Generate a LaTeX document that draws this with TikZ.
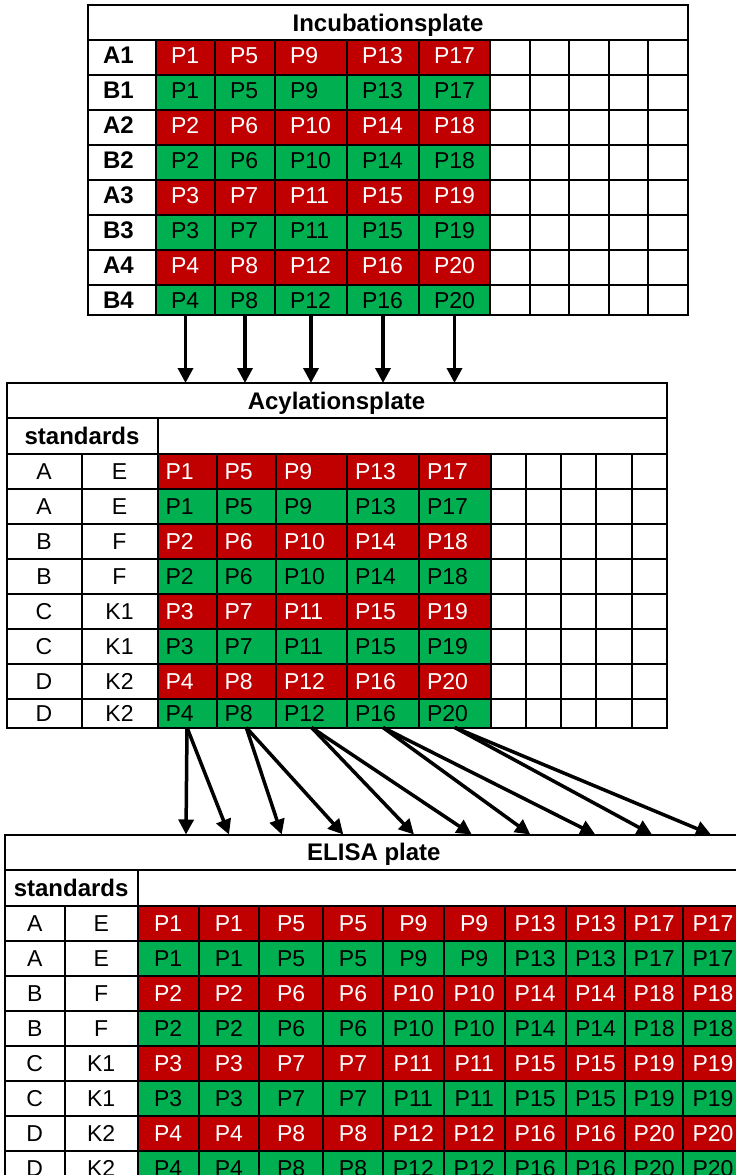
\documentclass[tikz,border=0pt]{standalone}
\usepackage{fontspec}
\setmainfont{Liberation Sans}
\usetikzlibrary{arrows.meta}
\definecolor{cred}{HTML}{C00000}
\definecolor{cgreen}{HTML}{00B050}
\tikzset{
  cellbox/.style={draw=black, line width=2pt, rectangle, inner sep=0pt, outer sep=0pt,
    text height=16.5pt, text depth=0pt, font=\fontsize{23}{23}\selectfont},
  boldtxt/.style={font=\fontsize{24}{24}\selectfont\bfseries, text height=17.2pt},
  flow/.style={line width=3.5pt, -{Triangle[width=15pt,length=15pt]}},
}
% centred cell: name, x1, y1, x2, y2, options, text
\newcommand\mkcell[7]{%
  \pgfmathsetmacro\cw{#4-#2}\pgfmathsetmacro\ch{#5-#3}%
  \pgfmathsetmacro\cx{(#2+#4)/2}\pgfmathsetmacro\cy{(#3+#5)/2}%
  \node[cellbox, minimum width=\cw pt, minimum height=\ch pt, #6] (#1) at (\cx,\cy) {#7};}
% left-aligned cell: name, x1, y1, x2, y2, pad, options, text
\newcommand\mkcellL[8]{%
  \pgfmathsetmacro\cw{#4-#2}\pgfmathsetmacro\ch{#5-#3}%
  \pgfmathsetmacro\ctw{#4-#2-2*#6}%
  \pgfmathsetmacro\cx{(#2+#4)/2}\pgfmathsetmacro\cy{(#3+#5)/2}%
  \node[cellbox, minimum width=\cw pt, minimum height=\ch pt, inner xsep=#6pt,
    text width=\ctw pt, align=left, #7] (#1) at (\cx,\cy) {#8};}
\begin{document}
\begin{tikzpicture}[x=1pt, y=-1pt]
\useasboundingbox (0,0) rectangle (736,1175);
\clip (0,0) rectangle (736,1175);

% ---------------- Incubation plate ----------------
\mkcell{T-title}{88}{5}{688}{40}{boldtxt}{Incubationsplate}
\foreach \lab [count=\i from 1] in {A1,B1,A2,B2,A3,B3,A4,B4} {
  \pgfmathsetmacro\ya{40+35*(\i-1)}
  \pgfmathsetmacro\yb{\i==8 ? 315 : \ya+35}
  \pgfmathsetmacro\tdp{\i==8 ? 0 : 5}
  \ifodd\i \def\fc{cred}\def\tc{white}\else\def\fc{cgreen}\def\tc{black}\fi
  \mkcellL{T-\i-0}{88}{\ya}{156}{\yb}{15}{boldtxt, text depth=\tdp pt}{\lab}
  \foreach \xa/\xb [count=\c from 1] in {156/215,215/275,275/347,347/419,419/490} {
    \pgfmathtruncatemacro\num{4*(\c-1)+floor((\i-1)/2)+1}
    \mkcellL{T-\i-\c}{\xa}{\ya}{\xb}{\yb}{15}{fill=\fc, text=\tc, text depth=\tdp pt}{P\num}
  }
  \foreach \xa/\xb [count=\k from 1] in {490/529.6,529.6/569.2,569.2/608.8,608.8/648.4,648.4/688} {
    \mkcell{T-\i-e\k}{\xa}{\ya}{\xb}{\yb}{}{}
  }
}

% ---------------- Acylation plate ----------------
\mkcell{M-title}{6.5}{383}{666.5}{418}{boldtxt}{Acylationsplate}
\mkcell{M-std}{6.5}{418}{157.5}{453.5}{boldtxt}{standards}
\mkcell{M-blank}{157.5}{418}{666.5}{453.5}{}{}
\foreach \la/\lb [count=\i from 1] in {A/E,A/E,B/F,B/F,C/K1,C/K1,D/K2,D/K2} {
  \pgfmathsetmacro\ya{453.5+35*(\i-1)}
  \pgfmathsetmacro\yb{\i==8 ? 727.5 : \ya+35}
  \ifodd\i \def\fc{cred}\def\tc{white}\else\def\fc{cgreen}\def\tc{black}\fi
  \mkcell{M-\i-a}{6.5}{\ya}{81.5}{\yb}{}{\la}
  \mkcell{M-\i-b}{81.5}{\ya}{157.5}{\yb}{}{\lb}
  \foreach \xa/\xb [count=\c from 1] in {157.5/216.5,216.5/276,276/347,347/419,419/490.5} {
    \pgfmathtruncatemacro\num{4*(\c-1)+floor((\i-1)/2)+1}
    \mkcellL{M-\i-\c}{\xa}{\ya}{\xb}{\yb}{8}{fill=\fc, text=\tc}{P\num}
  }
  \foreach \xa/\xb [count=\k from 1] in {490.5/525.6,525.6/560.7,560.7/596.3,596.3/631.8,631.8/666.5} {
    \mkcell{M-\i-e\k}{\xa}{\ya}{\xb}{\yb}{}{}
  }
}

% ---------------- ELISA plate ----------------
\mkcell{E-title}{4.7}{834.5}{743}{870}{boldtxt}{ELISA plate}
\mkcell{E-std}{4.7}{870}{137.6}{905.5}{boldtxt}{standards}
\mkcell{E-blank}{137.6}{870}{743}{905.5}{}{}
\foreach \la/\lb [count=\i from 1] in {A/E,A/E,B/F,B/F,C/K1,C/K1,D/K2,D/K2} {
  \pgfmathsetmacro\ya{905.5+35*(\i-1)}
  \pgfmathsetmacro\yb{\ya+35}
  \ifodd\i \def\fc{cred}\def\tc{white}\else\def\fc{cgreen}\def\tc{black}\fi
  \mkcell{E-\i-a}{4.7}{\ya}{64.8}{\yb}{}{\la}
  \mkcell{E-\i-b}{64.8}{\ya}{137.6}{\yb}{}{\lb}
  \foreach \xa/\xb [count=\c from 1] in {137.6/198.6,198.6/259.2,259.2/323,323/383,383/443.7,443.7/504.7,504.7/565.7,565.7/625.4,625.4/683,683/743} {
    \pgfmathtruncatemacro\num{4*floor((\c-1)/2)+floor((\i-1)/2)+1}
    \mkcell{E-\i-\c}{\xa}{\ya}{\xb}{\yb}{fill=\fc, text=\tc}{P\num}
  }
}

% ---------------- arrows ----------------
\foreach \c in {1,...,5} {
  \draw[flow] (T-8-\c.south) -- (T-8-\c.south |- M-title.north);
}
\foreach \x [count=\k from 1] in {186,229,281.7,343.3,414,471.7,530.3,595.3,652,711} {
  \coordinate (e\k) at (\x,834.5);
}
\foreach \c in {1,...,5} {
  \pgfmathtruncatemacro\ea{2*\c-1}
  \pgfmathtruncatemacro\eb{2*\c}
  \draw[flow] (M-8-\c.south) -- (e\ea);
  \draw[flow] (M-8-\c.south) -- (e\eb);
}
\end{tikzpicture}
\end{document}
